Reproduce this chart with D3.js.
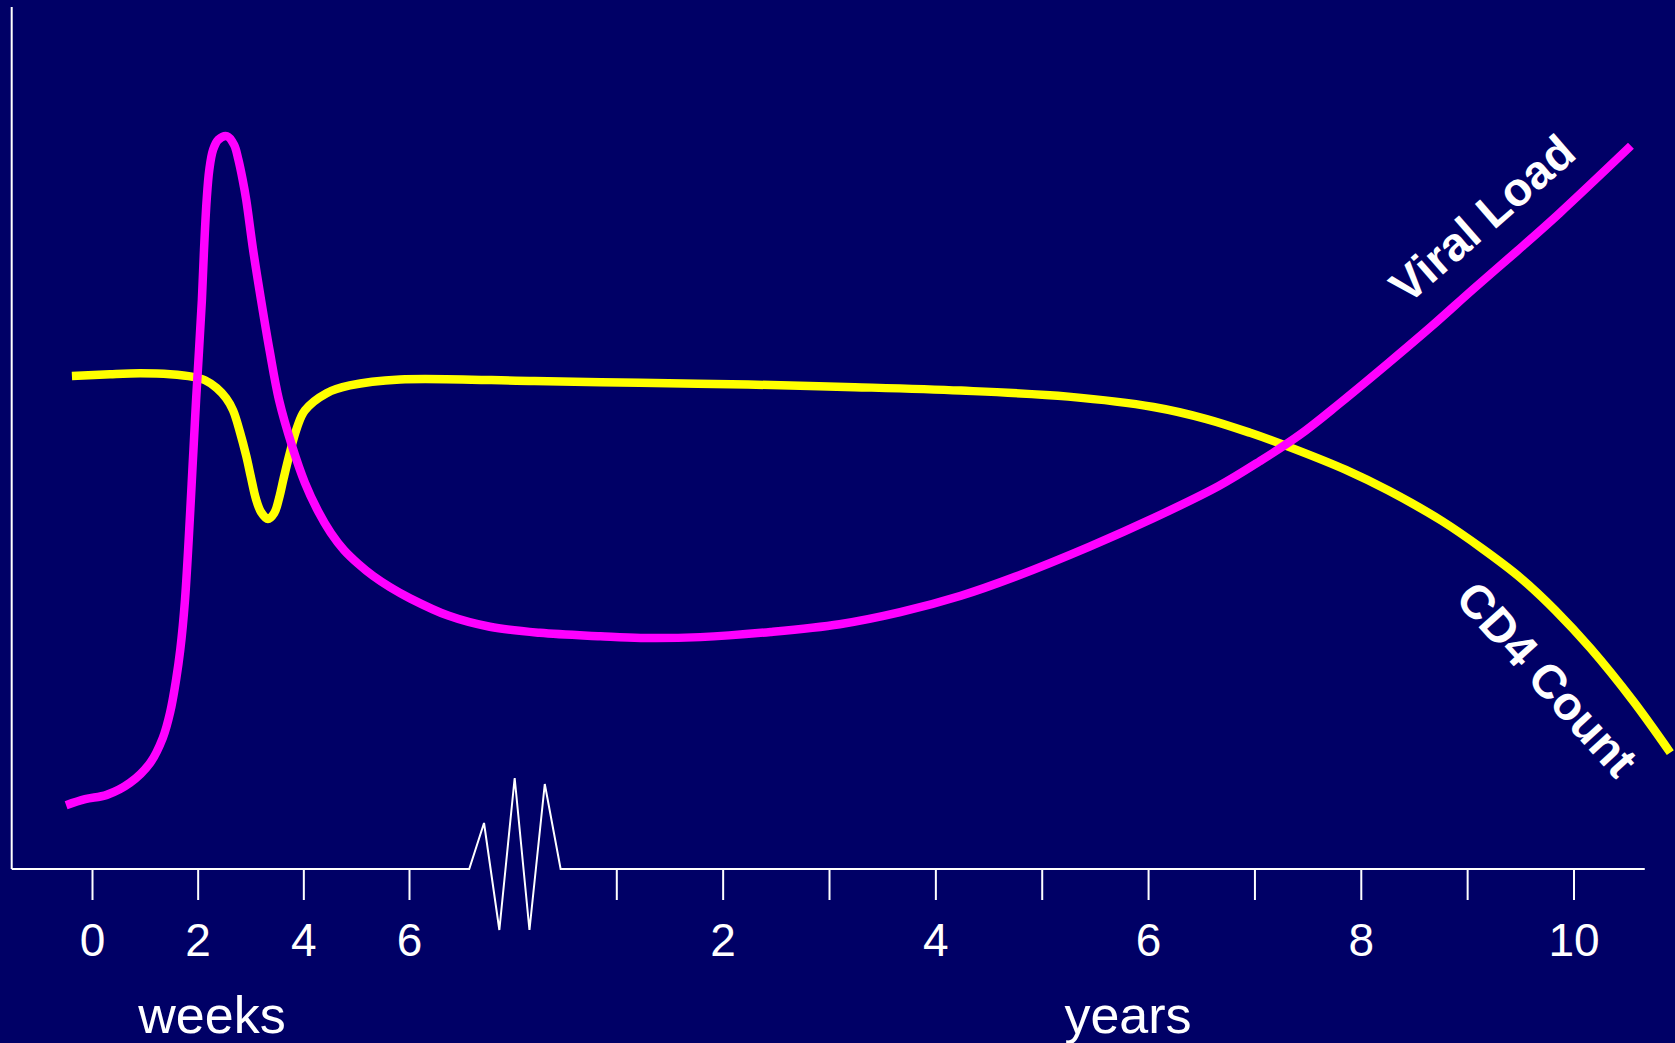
<!DOCTYPE html>
<html><head><meta charset="utf-8">
<script src="https://cdn.jsdelivr.net/npm/d3@7"></script>
<style>html,body{margin:0;padding:0;background:#000066;overflow:hidden}</style>
</head><body>
<svg id="c" width="1675" height="1043"></svg>
<script>
// ---- data ----
const weekTicks = [0, 2, 4, 6];
const yearTicks = [1, 2, 3, 4, 5, 6, 7, 8, 9, 10];
const yearLabels = [2, 4, 6, 8, 10];
const axisTitles = ["weeks", "years"];
const seriesNames = ["Viral Load", "CD4 Count"];

// [time in weeks, relative level]
const viralWeeks = [[-0.49,7.4],[-0.13,8.1],[0.28,8.6],[0.72,10.0],[1.10,12.3],[1.34,15.2],[1.48,18.2],[1.59,21.9],[1.67,25.4],[1.76,31.2],[1.92,48.6],[1.97,54.4],[2.08,66.0],[2.12,71.8],[2.17,77.6],[2.22,81.1],[2.29,83.4],[2.39,84.6],[2.56,85.0],[2.69,84.0],[2.77,82.3],[2.85,80.0],[2.92,77.6],[3.05,71.8],[3.20,66.0],[3.36,60.2],[3.54,54.4],[3.79,49.0],[4.03,44.8],[4.28,41.5],[4.52,39.0],[4.77,37.0],[5.04,35.4],[5.32,34.0],[5.64,32.7],[6.02,31.4],[6.74,29.4],[7.53,28.1]];
// [time in years, relative level]
const viralYears = [[0.28,27.4],[0.85,27.0],[1.23,26.8],[1.79,26.9],[2.45,27.5],[3.10,28.4],[3.67,29.8],[4.24,31.7],[4.75,33.9],[5.45,37.4],[6.05,40.7],[6.66,44.4],[7.05,47.3],[7.43,50.4],[7.80,54.0],[8.26,58.7],[8.66,62.9],[9.06,67.3],[9.47,71.7],[9.87,76.1],[10.54,83.9]];
const cd4Weeks = [[-0.38,57.2],[0.34,57.4],[0.91,57.5],[1.48,57.4],[1.91,57.1],[2.14,56.7],[2.36,55.8],[2.54,54.6],[2.67,53.2],[2.80,50.7],[2.92,47.9],[3.01,45.4],[3.10,43.0],[3.20,41.4],[3.33,40.6],[3.45,41.3],[3.54,43.0],[3.63,45.4],[3.75,48.4],[3.88,51.2],[4.03,53.2],[4.44,55.2],[4.88,56.1],[5.83,56.8]];
const cd4Years = [[0.23,56.6],[1.22,56.4],[2.24,56.2],[3.24,55.9],[4.24,55.5],[5.25,54.8],[6.05,53.6],[6.55,52.2],[6.96,50.6],[7.36,48.8],[7.86,46.3],[8.26,43.9],[8.76,40.4],[9.15,37.1],[9.50,33.8],[9.83,30.0],[10.16,25.6],[10.56,19.5],[10.91,13.5]];
// axis break (in weeks) and its zigzag offsets
const breakWeeks = [7.14, 7.42, 7.71, 8.0, 8.28, 8.57, 8.87];
const breakOffsets = [0, -46, 61, -91, 61, -85, 0];

// ---- layout ----
const svg = d3.select("#c");
const W = 1675, H = 1043;
const FONT = "'Liberation Sans', Arial, sans-serif";
svg.append("rect").attr("width", W).attr("height", H).attr("fill", "#000066");

const xW = d3.scaleLinear().domain([0, 6]).range([92, 409]);
const xY = d3.scaleLinear().domain([1, 10]).range([616.3, 1573.5]);
const y = d3.scaleLinear().domain([0, 100]).range([869, 7]);
const axisLeft = 11.7, axisRightYears = 10.67;
const white = "#ffffff";

// y axis line
svg.append("line").attr("x1", axisLeft).attr("x2", axisLeft)
  .attr("y1", y(0)).attr("y2", y(100)).attr("stroke", white).attr("stroke-width", 2);

// baseline with break
const basePts = [[axisLeft, y(0)]]
  .concat(breakWeeks.map((w, i) => [xW(w), y(0) + breakOffsets[i]]))
  .concat([[xY(axisRightYears), y(0)]]);
svg.append("path").attr("d", d3.line()(basePts)).attr("fill", "none")
  .attr("stroke", white).attr("stroke-width", 2).attr("stroke-linejoin", "miter");

function styleAxis(g) {
  g.select(".domain").remove();
  g.selectAll(".tick line").attr("stroke", white).attr("stroke-width", 2);
  g.selectAll(".tick text").attr("fill", white)
    .attr("font-family", FONT).attr("font-size", 46);
}
svg.append("g").attr("transform", `translate(0,${y(0)})`)
  .call(d3.axisBottom(xW).tickValues(weekTicks).tickSize(31).tickPadding(23).tickFormat(d3.format("d")))
  .call(styleAxis);
svg.append("g").attr("transform", `translate(0,${y(0)})`)
  .call(d3.axisBottom(xY).tickValues(yearTicks).tickSize(31).tickPadding(23)
    .tickFormat(d => yearLabels.includes(d) ? d : ""))
  .call(styleAxis);

// axis titles
svg.append("text").attr("x", 212).attr("y", 1033).attr("text-anchor", "middle")
  .attr("fill", white).attr("font-family", FONT)
  .attr("font-size", 52).text(axisTitles[0]);
svg.append("text").attr("x", 1128).attr("y", 1033).attr("text-anchor", "middle")
  .attr("fill", white).attr("font-family", FONT)
  .attr("font-size", 52).text(axisTitles[1]);

// series
function build(weeks, years) {
  return weeks.map(([t, v]) => ({ p: "w", t, v }))
    .concat(years.map(([t, v]) => ({ p: "y", t, v })));
}
const line = d3.line()
  .x(d => d.p === "w" ? xW(d.t) : xY(d.t))
  .y(d => y(d.v))
  .curve(d3.curveCatmullRom.alpha(0.5));

svg.append("path").datum(build(cd4Weeks, cd4Years)).attr("d", line)
  .attr("fill", "none").attr("stroke", "#ffff00").attr("stroke-width", 8.5);
svg.append("path").datum(build(viralWeeks, viralYears)).attr("d", line)
  .attr("fill", "none").attr("stroke", "#ff00ff").attr("stroke-width", 8.5);

// series labels
svg.append("text").attr("transform", "translate(1493,231) rotate(-41)")
  .attr("text-anchor", "middle").attr("fill", white).attr("font-weight", "bold")
  .attr("font-family", FONT).attr("font-size", 47)
  .text(seriesNames[0]);
svg.append("text").attr("transform", "translate(1535,690) rotate(48)")
  .attr("text-anchor", "middle").attr("fill", white).attr("font-weight", "bold")
  .attr("font-family", FONT).attr("font-size", 47)
  .text(seriesNames[1]);
</script>
</body></html>
